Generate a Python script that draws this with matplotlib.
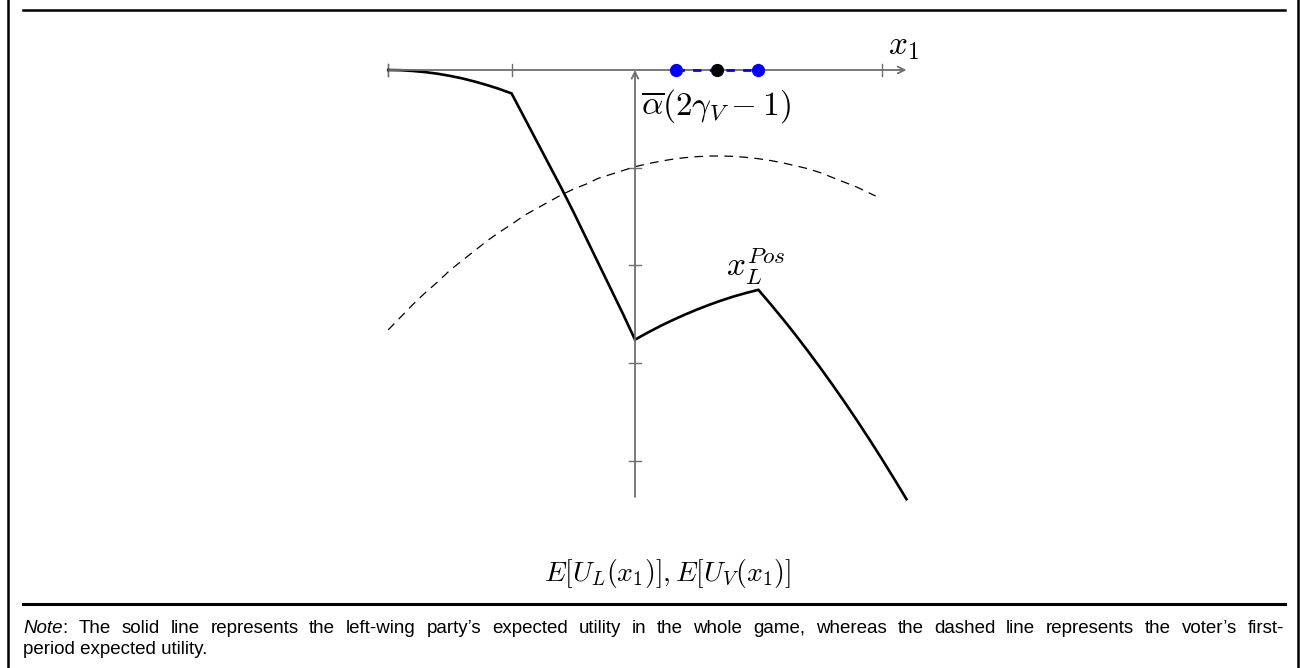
import matplotlib
matplotlib.use("Agg")
import matplotlib.pyplot as plt
from matplotlib.lines import Line2D

plt.rcParams["mathtext.fontset"] = "cm"

# Left-wing party's expected utility over the whole game (solid)
party_x = [-2.0, -1.9, -1.8, -1.7, -1.6, -1.5, -1.4, -1.3, -1.2, -1.1,
           -1.0, -0.9, -0.8, -0.7, -0.6, -0.5, -0.4, -0.3, -0.2, -0.1,
           0.0, 0.1, 0.2, 0.3, 0.4, 0.5, 0.6, 0.7, 0.8, 0.9,
           1.0, 1.1, 1.2, 1.3, 1.4, 1.5, 1.6, 1.7, 1.8, 1.9, 2.0, 2.1, 2.2]
party_u = [0.0, -0.002, -0.01, -0.022, -0.038, -0.06, -0.086, -0.118, -0.154, -0.194,
           -0.24, -0.48, -0.72, -0.96, -1.20, -1.45, -1.71, -1.97, -2.23, -2.49,
           -2.76, -2.69, -2.624, -2.563, -2.506, -2.453, -2.404, -2.359, -2.318, -2.282,
           -2.25, -2.398, -2.551, -2.71, -2.875, -3.045, -3.221, -3.402, -3.589, -3.782,
           -3.98, -4.184, -4.393]

# Voter's first-period expected utility (dashed)
voter_x = [-2.0, -1.9, -1.8, -1.7, -1.6, -1.5, -1.4, -1.3, -1.2, -1.1,
           -1.0, -0.9, -0.8, -0.7, -0.6, -0.5, -0.4, -0.3, -0.2, -0.1,
           0.0, 0.1, 0.2, 0.3, 0.4, 0.5, 0.6, 0.7, 0.8, 0.9,
           1.0, 1.1, 1.2, 1.3, 1.4, 1.5, 1.6, 1.7, 1.8, 1.9, 1.95]
voter_u = [-2.66, -2.53, -2.40, -2.28, -2.17, -2.05, -1.95, -1.85, -1.75, -1.66,
           -1.58, -1.49, -1.42, -1.35, -1.28, -1.22, -1.17, -1.11, -1.07, -1.03,
           -0.99, -0.96, -0.935, -0.914, -0.898, -0.887, -0.881, -0.88, -0.884, -0.894,
           -0.908, -0.927, -0.951, -0.98, -1.01, -1.05, -1.10, -1.15, -1.20, -1.26, -1.29]

# Interval of policies on the x1 axis
interval_ends = [1 / 3, 1.0]
voter_ideal = 2 / 3

x_ticks = [-2, -1, 1, 2]
y_ticks = [-1, -2, -3, -4]

NOTE_LINE1 = ("The solid line represents the left-wing party\u2019s expected utility "
              "in the whole game, whereas the dashed line represents the voter\u2019s first-")
NOTE_LINE2 = "period expected utility."

W, H, DPI = 1300, 668, 100
fig = plt.figure(figsize=(W / DPI, H / DPI), dpi=DPI)
ax = fig.add_axes([0, 0, 1, 1])
ax.set_axis_off()

# pixel geometry of the coordinate system
ox, oy = 635.0, 70.0      # origin in pixels (from top-left)
ux, uy = 123.4, 97.7      # pixels per unit
ax.set_xlim(-ox / ux, (W - ox) / ux)
ax.set_ylim((oy - H) / uy, oy / uy)

axis_col = "#6e6e6e"
ax.annotate("", xy=(2.2, 0), xytext=(-2.0, 0),
            arrowprops=dict(arrowstyle="->", color=axis_col, lw=1.3,
                            shrinkA=0, shrinkB=0, mutation_scale=12))
ax.annotate("", xy=(0, 0.0), xytext=(0, -4.37),
            arrowprops=dict(arrowstyle="->", color=axis_col, lw=1.3,
                            shrinkA=0, shrinkB=0, mutation_scale=12))
tick_half_x = 6 / uy
tick_half_y = 6 / ux
for t in [-2.0] + x_ticks:
    ax.plot([t, t], [-tick_half_x, tick_half_x], color=axis_col, lw=1.0)
for t in y_ticks:
    ax.plot([-tick_half_y, tick_half_y], [t, t], color=axis_col, lw=1.0)

# curves
ax.plot(voter_x, voter_u, color="black", lw=0.9, ls=(0, (7, 5)))
ax.plot(party_x, party_u, color="black", lw=1.9, solid_joinstyle="miter")

# interval on the x1 axis
ax.plot(interval_ends, [0, 0], color="blue", lw=2.0, ls=(0, (3, 3)), zorder=4)
ax.plot(interval_ends, [0, 0], "o", color="blue", ms=8.5, zorder=5)
ax.plot([voter_ideal], [0], "o", color="black", ms=8.5, zorder=6)

# labels
ax.text(2.05, 0.08, r"$x_1$", fontsize=24, ha="left", va="bottom")
ax.text(0.05, -0.17, r"$\overline{\alpha}(2\gamma_V - 1)$", fontsize=24,
        ha="left", va="top")
ax.text(0.98, -2.22, r"$x_L^{Pos}$", fontsize=24, ha="center", va="bottom")
ax.text(0.26, -5.15, r"$E[U_L(x_1)], E[U_V(x_1)]$", fontsize=20,
        ha="center", va="center")

# frame and rules
def px_line(x0, y0, x1, y1, lw):
    fig.add_artist(Line2D([x0 / W, x1 / W], [1 - y0 / H, 1 - y1 / H],
                          transform=fig.transFigure, color="black", lw=lw))

px_line(7.5, 0, 7.5, H, 1.8)
px_line(1298, 0, 1298, H, 1.8)
px_line(23, 10, 1285, 10, 1.8)
px_line(23, 604, 1285, 604, 2.2)

# note below the rule, first line set justified between the margins
note_font = ["Liberation Sans", "DejaVu Sans"]
note_size = 13.5
left_px, right_px = 23.0, 1284.0
base1, base2 = 633.0, 654.0
renderer = fig.canvas.get_renderer()

def width_px(s, **kw):
    t = fig.text(0, 0, s, fontsize=note_size, family=note_font, **kw)
    w = t.get_window_extent(renderer).width
    t.remove()
    return w

words = NOTE_LINE1.split(" ")
head_w = width_px("Note", style="italic") + width_px(":")
word_w = [width_px(w) for w in words]
gap = (right_px - left_px - head_w - sum(word_w)) / len(words)
x = left_px
fig.text(x / W, 1 - base1 / H, "Note", fontsize=note_size, style="italic",
         family=note_font, ha="left", va="baseline")
x += width_px("Note", style="italic")
fig.text(x / W, 1 - base1 / H, ":", fontsize=note_size,
         family=note_font, ha="left", va="baseline")
x += width_px(":") + gap
for w, ww in zip(words, word_w):
    fig.text(x / W, 1 - base1 / H, w, fontsize=note_size,
             family=note_font, ha="left", va="baseline")
    x += ww + gap
fig.text(left_px / W, 1 - base2 / H, NOTE_LINE2, fontsize=note_size,
         family=note_font, ha="left", va="baseline")

fig.savefig("out.png", dpi=DPI)
